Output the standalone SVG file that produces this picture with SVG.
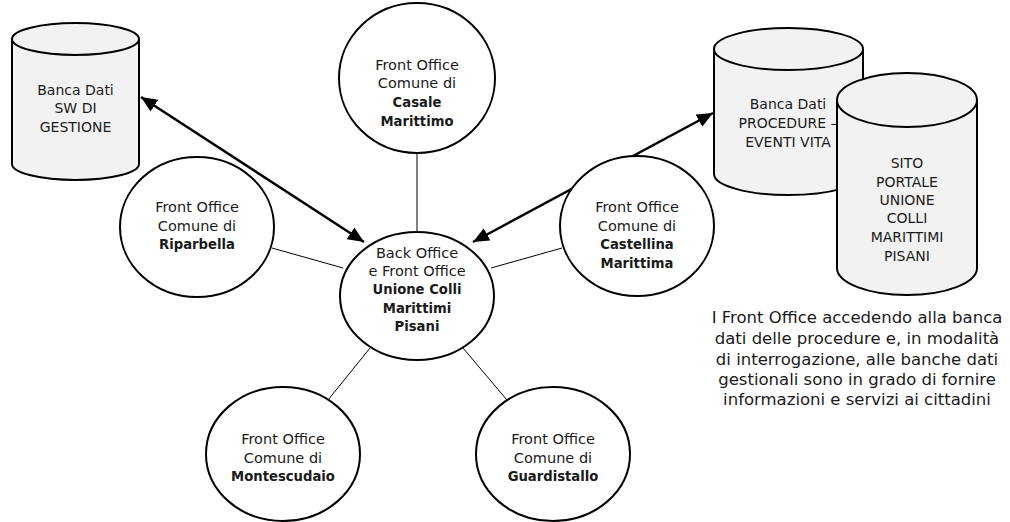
<svg xmlns="http://www.w3.org/2000/svg" width="1010" height="522" viewBox="0 0 1010 522">
<style>
.t{font-family:"DejaVu Sans",Verdana,sans-serif;font-size:14.5px;fill:#1a1a1a;text-anchor:middle}
.b{font-weight:bold;font-size:13.2px}
.c{font-size:14px}
.d{font-family:"DejaVu Sans",Verdana,sans-serif;font-size:16.5px;fill:#1a1a1a;text-anchor:middle}
.node{fill:#ffffff;stroke:#000;stroke-width:2}
.cyl{fill:#f2f2f2;stroke:#000;stroke-width:2}
.thin{stroke:#000;stroke-width:1;fill:none}
.arr{stroke:#000;stroke-width:2.5;fill:none;marker-start:url(#ah);marker-end:url(#ah)}
</style>
<defs>
<marker id="ah" markerUnits="userSpaceOnUse" markerWidth="18" markerHeight="14" refX="16" refY="7" orient="auto-start-reverse">
<path d="M0,0 L16,7 L0,14 Z" fill="#000"/>
</marker>
</defs>
<g id="connectors">
<line class="thin" x1="417" y1="153" x2="417" y2="232"/>
<line class="thin" x1="272" y1="248" x2="343" y2="268"/>
<line class="thin" x1="562" y1="248" x2="491" y2="268"/>
<line class="thin" x1="370" y1="348" x2="328" y2="400"/>
<line class="thin" x1="463" y1="348" x2="507" y2="400"/>
<line class="arr" x1="141" y1="97" x2="364" y2="242"/>
<line class="arr" x1="713" y1="113" x2="473" y2="242"/>
</g>
<g id="db-gestione">
<path class="cyl" d="M12,39 L12,164 A63.5,16 0 0 0 139,164 L139,39"/>
<ellipse class="cyl" cx="75.5" cy="39" rx="63.5" ry="16"/>
<text class="t c" x="75.5" y="95">Banca Dati</text>
<text class="t c" x="75.5" y="113">SW DI</text>
<text class="t c" x="75.5" y="132">GESTIONE</text>
</g>
<g id="db-procedure">
<path class="cyl" d="M714,49 L714,174 A74.5,21 0 0 0 863,174 L863,49"/>
<ellipse class="cyl" cx="788.5" cy="49" rx="74.5" ry="21"/>
<text class="t c" x="788" y="109">Banca Dati</text>
<text class="t c" x="788" y="128">PROCEDURE –</text>
<text class="t c" x="788" y="147">EVENTI VITA</text>
</g>
<g id="db-sito">
<path class="cyl" d="M837,100 L837,268 A70,27 0 0 0 977,268 L977,100"/>
<ellipse class="cyl" cx="907" cy="100" rx="70" ry="27"/>
<text class="t c" x="907" y="168">SITO</text>
<text class="t c" x="907" y="187">PORTALE</text>
<text class="t c" x="907" y="205">UNIONE</text>
<text class="t c" x="907" y="223">COLLI</text>
<text class="t c" x="907" y="242">MARITTIMI</text>
<text class="t c" x="907" y="261">PISANI</text>
</g>
<g id="casale">
<ellipse class="node" cx="417" cy="78" rx="78" ry="75"/>
<text class="t" x="417" y="70">Front Office</text>
<text class="t" x="417" y="88">Comune di</text>
<text class="t b" x="417" y="107">Casale</text>
<text class="t b" x="417" y="126">Marittimo</text>
</g>
<g id="riparbella">
<ellipse class="node" cx="197" cy="227" rx="77" ry="70"/>
<text class="t" x="197" y="212">Front Office</text>
<text class="t" x="197" y="231">Comune di</text>
<text class="t b" x="197" y="249">Riparbella</text>
</g>
<g id="castellina">
<ellipse class="node" cx="637" cy="226" rx="77" ry="70"/>
<text class="t" x="637" y="212">Front Office</text>
<text class="t" x="637" y="231">Comune di</text>
<text class="t b" x="637" y="249">Castellina</text>
<text class="t b" x="637" y="268">Marittima</text>
</g>
<g id="centro">
<ellipse class="node" cx="417" cy="296" rx="77" ry="64"/>
<text class="t" x="417" y="258">Back Office</text>
<text class="t" x="417" y="276">e Front Office</text>
<text class="t b" x="417" y="294">Unione Colli</text>
<text class="t b" x="417" y="313">Marittimi</text>
<text class="t b" x="417" y="331">Pisani</text>
</g>
<g id="montescudaio">
<ellipse class="node" cx="283" cy="454" rx="77" ry="67"/>
<text class="t" x="283" y="444">Front Office</text>
<text class="t" x="283" y="463">Comune di</text>
<text class="t b" x="283" y="481">Montescudaio</text>
</g>
<g id="guardistallo">
<ellipse class="node" cx="553" cy="454" rx="77" ry="67"/>
<text class="t" x="553" y="444">Front Office</text>
<text class="t" x="553" y="463">Comune di</text>
<text class="t b" x="553" y="481">Guardistallo</text>
</g>
<g id="descrizione">
<text class="d" x="857" y="323">I Front Office accedendo alla banca</text>
<text class="d" x="857" y="344">dati delle procedure e, in modalità</text>
<text class="d" x="857" y="365">di interrogazione, alle banche dati</text>
<text class="d" x="857" y="385">gestionali sono in grado di fornire</text>
<text class="d" x="857" y="405">informazioni e servizi ai cittadini</text>
</g>
</svg>
